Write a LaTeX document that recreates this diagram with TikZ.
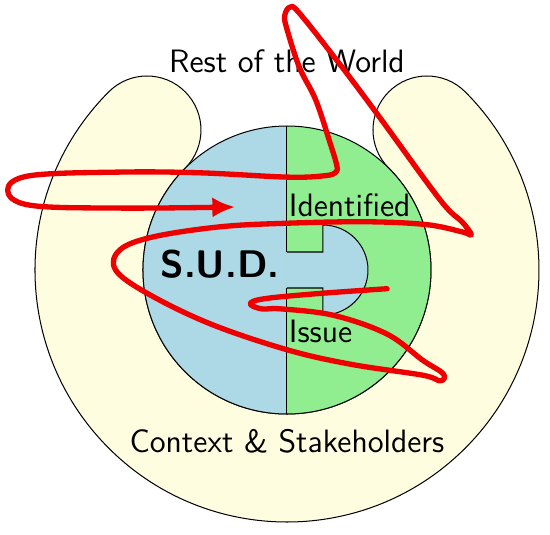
\documentclass[tikz,border=0pt]{standalone}
\usetikzlibrary{arrows.meta}
\definecolor{cream}{HTML}{FFFDE0}
\definecolor{sudblue}{HTML}{ADD8E6}
\definecolor{issuegreen}{HTML}{90EE90}
\definecolor{scribblered}{HTML}{EE0000}
\tikzset{
  txt/.style={font=\sffamily\fontsize{12.8}{15}\selectfont, inner sep=0pt},
  scribble/.style={scribblered, line width=2.1pt, line cap=round, line join=round,
    -{Latex[length=9pt,width=8pt]}}
}
\begin{document}
\begin{tikzpicture}
\useasboundingbox (-3.986,-3.667) rectangle (3.653,3.75);
% context and stakeholders: open ring with round ends
\draw[fill=cream] (135:3.5) arc[start angle=135, end angle=405, radius=3.5]
  arc[start angle=45, end angle=225, radius=0.75]
  arc[start angle=45, end angle=-225, radius=2]
  arc[start angle=-45, end angle=135, radius=0.75] -- cycle;
% system under design and the issue
\fill[sudblue] (0,2) arc[start angle=90, end angle=270, radius=2] -- cycle;
\fill[issuegreen] (0,-2) arc[start angle=-90, end angle=90, radius=2] -- cycle;
\fill[sudblue] (0,0.25) -- (0.5,0.25) -- (0.5,0.625) arc[start angle=90, end angle=-90, radius=0.625]
  -- (0.5,-0.25) -- (0,-0.25) -- cycle;
\draw (0,0.25) -- (0.5,0.25) -- (0.5,0.625) arc[start angle=90, end angle=-90, radius=0.625]
  -- (0.5,-0.25) -- (0,-0.25);
\draw (0,0) circle (2);
\draw (0,2) -- (0,0.25);
\draw (0,-0.25) -- (0,-2);
% labels
\node[txt, anchor=base] (world) at (0,2.74) {Rest of the World};
\node[txt, anchor=base] (context) at (0,-2.53) {Context \& Stakeholders};
\node[font=\sffamily\fontsize{15.2}{18}\selectfont\bfseries, inner sep=0pt, anchor=base] (sud) at (-0.93,-0.11) {S.U.D.};
\node[txt, anchor=base west] (identified) at (0.02,0.74) {Identified};
\node[txt, anchor=base west] (issue) at (0.02,-1.0) {Issue};
% the scribble
\draw[scribble] plot[smooth, tension=0.6] coordinates {
  (1.39,-0.26) (0.40,-0.33) (-0.32,-0.40) (-0.51,-0.47) (-0.35,-0.54) (-0.08,-0.54)
  (0.65,-0.63) (1.39,-0.89) (1.88,-1.25) (2.17,-1.44) (2.13,-1.54) (1.88,-1.46)
  (0.89,-1.31) (0.01,-1.11) (-1.06,-0.75) (-1.93,-0.33) (-2.38,0.00) (-2.32,0.28)
  (-1.86,0.46) (-0.93,0.60) (0.01,0.65) (1.11,0.67) (1.94,0.63) (2.43,0.53)
  (2.56,0.49) (2.43,0.67) (2.13,0.97) (1.28,2.13) (0.74,2.85) (0.17,3.57)
  (0.04,3.65) (-0.03,3.54) (-0.01,3.38) (0.17,2.82) (0.40,2.36) (0.60,1.76)
  (0.69,1.46) (0.68,1.36) (0.53,1.31) (0.01,1.29) (-1.21,1.35) (-2.32,1.36)
  (-3.57,1.31) (-3.88,1.11) (-3.57,0.90) (-2.32,0.86) (-0.72,0.875)};
\end{tikzpicture}
\end{document}
